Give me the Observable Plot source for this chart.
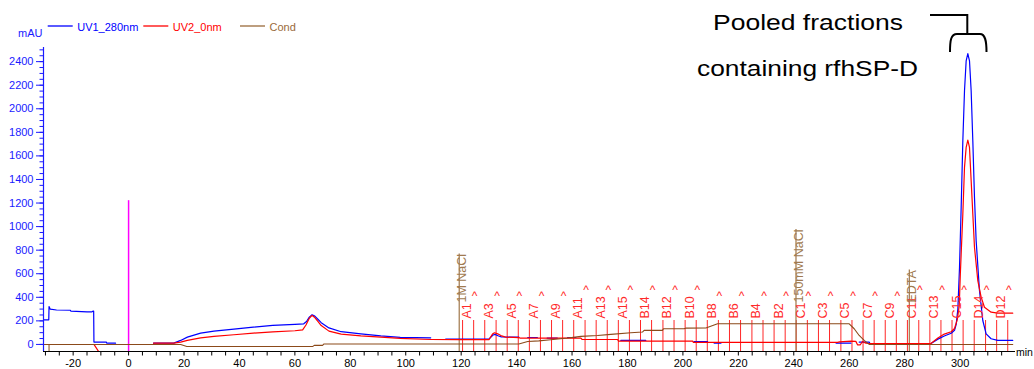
<!DOCTYPE html>
<html><head><meta charset="utf-8">
<script src="https://cdn.jsdelivr.net/npm/d3@7"></script>
<script src="https://cdn.jsdelivr.net/npm/@observablehq/plot@0.6"></script>
<style>
html,body{margin:0;padding:0;background:#fff;}
#chart{width:1034px;height:369px;overflow:hidden;}
svg{display:block;}
</style></head><body><div id="chart"></div>
<script>
// ---------------- data ----------------
const seriesNames = ["UV1_280nm", "UV2_0nm", "Cond"];
const seriesColors = ["#0000ff", "#ff0000", "#9a6a3a"];

// UV1_280nm  [time (min), mAU]; null = gap (hidden under other traces)
const uv1 = [
  [-30.7,209],[-28.8,209],[-28.7,322],[-28.3,300],[-26,292],[-21,290],[-20.8,282],[-15,277],[-13.2,276],[-12.9,282],[-12.6,282],[-12.5,20],[-8,20],[-7.9,11],[-4.7,11],
  null,
  [9,11],[16.3,11],[18.8,34],[21.2,62],[26,96],[30.8,113],[38,130],[45,147],[52,161],[60,170],[63.2,175],[64.2,195],[65.2,232],[66.2,252],[67.2,240],[68.3,214],[69.5,185],[72.3,140],[76.7,108],[83.8,90],[91,72],[98,60],[109,56],
  null,
  [114.4,45],[130,45],[131.5,80],[132.2,85],[133.5,72],[134.5,64],[140.8,62],
  null, [144,59],[147.5,59],
  null, [151,54],[154.7,54],
  null, [158.4,59],[161.4,59],
  null, [164.4,42],[171.6,42],
  null, [177.6,34],[186.6,34],
  null, [204,24],[208.9,24],
  null, [211.3,11],[213.7,11],
  null, [255.3,11],[260.6,11],
  null, [263.6,20],[267.2,20],[267.5,8],[289.5,8],[292,45],[294.3,72],[296.8,95],[298,120],[298.6,170],[299.2,300],[299.8,655],[300.4,1164],[301,1729],[301.6,2153],[302.2,2407],[302.8,2469],[303.4,2407],[304,2153],[304.6,1729],[305.2,1249],[305.8,881],[307,458],[308.2,203],[309.4,90],[311.2,48],[313.6,34],[319,34]
];

// UV2_0nm
const uv2 = [
  [-12.5,0],[-10.4,-75],
  null,
  [9,11],[16.3,11],[18.8,20],[21.2,34],[26,56],[30.8,68],[38,82],[45,96],[52,107],[60,116],[62.8,124],[64,165],[65.2,222],[66.2,246],[67.2,228],[68.3,195],[69.5,160],[72.3,113],[76.7,88],[83.8,73],[91,62],[98,51],[109,42],[119,40],[130,40],[131.3,88],[132,99],[133.2,90],[134.3,75],[136,62],[140.8,58],[141.2,54],[163.2,54],[163.6,42],[176.4,42],[176.8,28],[203.5,28],[203.8,17],[255.8,17],[256.5,22],[260.6,28],[262.4,26],[263,-3],[264,-3],[264.8,25],[266,11],[267,8],[289.5,8],[292,55],[294.3,88],[296.8,108],[298,135],[299,210],[299.7,330],[300.1,600],[301,1107],[301.6,1503],[302.2,1672],[302.8,1734],[303.4,1672],[304,1390],[304.6,1107],[305.2,825],[306.4,542],[307.6,401],[308.8,316],[311.2,274],[313.6,265],[319,265]
];

// Cond (drawn in the mAU frame)
const cond = [
  [-30.7,0],[18.8,0],[21,-17],[66.5,-17],[67,-8],[70,-8],[70.5,4],[140.8,4],[144,25],[148,30],[152.3,40],[158.4,54],[163.2,68],[169.2,76],[174,85],[181.2,99],[185.4,105],[186,119],[192.6,119],[193,133],[200.4,133],[201,138],[208.3,140],[212.5,175],[260,175],[261.8,133],[263.6,76],[265.4,34],[267.2,0],[319,0]
];

// fractions
const fracTimes = [120.5,124.5,128.5,132.6,136.6,140.6,144.6,148.6,152.6,156.6,160.6,164.7,168.7,172.7,176.7,180.7,184.7,188.7,192.8,196.8,200.8,204.8,208.8,212.8,216.8,220.8,224.9,228.9,232.9,236.9,240.9,244.9,248.9,252.9,257.0,261.0,265.0,269.0,273.0,277.0,281.0,285.1,289.1,293.1,297.1,301.1,305.1,309.2,313.2,317.2];
const fracNames = ["A1","A2","A3","A4","A5","A6","A7","A8","A9","A10","A11","A12","A13","A14","A15","B15","B14","B13","B12","B11","B10","B9","B8","B7","B6","B5","B4","B3","B2","B1","C1","C2","C3","C4","C5","C6","C7","C8","C9","C10","C11","C12","C13","C14","C15","D15","D14","D13","D12","D11"];

// events (method marks)
const eventTimes = [119.3, 240.8, 281.7];
const eventLabels = ["1M NaCl", "150mM NaCl", "EDTA"];
const injectTime = 0, injectHeight = 1220;
const startMarkTime = -28.7;

// axes
const xTicks = d3.range(-30, 320, 5);
const xLabelTicks = [-20, 0, 20, 40, 60, 80, 100, 120, 140, 160, 180, 200, 220, 240, 260, 280, 300];
const yTicks = [0, 200, 400, 600, 800, 1000, 1200, 1400, 1600, 1800, 2000, 2200, 2400];
const yMinorTicks = d3.range(0, 2501, 50);
const yUnit = "mAU", xUnit = "min";
const annotationLines = ["Pooled fractions", "containing rfhSP-D"];

// ---------------- chart ----------------
const FONT = "'Liberation Sans', Arial, Helvetica, sans-serif";
const W = 1034, H = 369, ML = 43, MR = 19, MT = 47, MB = 18;
const xDomain = [-30.7, 320], yDomain = [-60, 2520];
const yPix = d3.scaleLinear().domain(yDomain).range([H - MB, MT]);
const v = p => yPix.invert(p);

const ctx = document.createElement("canvas").getContext("2d");
ctx.font = "12.5px " + FONT;
const tw = s => ctx.measureText(s).width;

const fr = fracTimes.map((t, i) => ({t, name: fracNames[i], i}));
const labeled = fr.filter(d => d.i % 2 === 0);
const carets = fr.filter(d => d.i % 2 === 1).map(d => ({...d, high: (d.i >= 11 && d.i <= 21) || d.i >= 41}));
const events = eventTimes.map((t, i) => ({t, label: eventLabels[i]}));

const X = d => d ? d[0] : null, Y = d => d ? d[1] : null;
const blue = "#1a1aff";

const plot = Plot.plot({
  width: W, height: H,
  marginLeft: ML, marginRight: MR, marginTop: MT, marginBottom: MB,
  x: {domain: xDomain},
  y: {domain: yDomain},
  style: {fontFamily: FONT, fontSize: "11px", background: "white", overflow: "visible"},
  marks: [
    Plot.ruleX([injectTime], {y1: -60, y2: injectHeight, stroke: "#ff00ff", strokeWidth: 1.5}),
    Plot.ruleX([startMarkTime], {y1: -60, y2: 0, stroke: seriesColors[2], strokeWidth: 1.2}),
    Plot.ruleX(fr, {x: "t", y1: -60, y2: v(320), stroke: "#ff0000", strokeOpacity: 0.85, strokeWidth: 1}),
    Plot.ruleX(events, {x: "t", y1: -60, y2: d => v(302 - tw(d.label)), stroke: "#a88258", strokeWidth: 1.3}),
    Plot.line(uv1, {x: X, y: Y, stroke: seriesColors[0], strokeWidth: 1.2, clip: true}),
    Plot.line(uv2, {x: X, y: Y, stroke: seriesColors[1], strokeWidth: 1.2, clip: true}),
    Plot.line(cond, {x: X, y: Y, stroke: "#8b4a1a", strokeWidth: 1.1, clip: true}),
    Plot.text(labeled, {x: "t", y: () => v(318), text: "name", rotate: -90, textAnchor: "start", dx: 4.5, fill: "#ff2a2a", fontSize: 12.5}),
    Plot.text(carets, {x: "t", y: d => v(d.high ? 293 : 299.5), text: () => "^", lineAnchor: "bottom", dx: 1, fill: "#ff2a2a", fontSize: 12}),
    Plot.text(events, {x: "t", y: () => v(302), text: "label", rotate: -90, textAnchor: "start", dx: 3, fill: "#a07a50", fontSize: 12.5}),
    Plot.ruleY([-60], {stroke: "black", strokeWidth: 1}),
    Plot.ruleX([xDomain[0]], {stroke: blue, strokeWidth: 1.2}),
    Plot.axisX({ticks: xTicks, tickSize: 4.5, tickPadding: 3.5, label: null, color: "black", fontSize: 11,
      tickFormat: d => xLabelTicks.includes(d) ? `${d}` : ""}),
    Plot.axisY({ticks: yMinorTicks, tickSize: 3.5, label: null, color: blue, tickFormat: () => ""}),
    Plot.axisY({ticks: yTicks, tickSize: 7, tickPadding: 3, label: null, color: blue, fontSize: 11, tickFormat: d => `${d}`})
  ]
});

const svg = d3.select(plot);
const txt = (x, y, s, fill, size) => svg.append("text").attr("x", x).attr("y", y)
  .attr("text-anchor", "start").attr("fill", fill).attr("font-size", size).attr("font-family", FONT).text(s);
// legend
const legX = [47.7, 143.3, 240];
seriesNames.forEach((name, i) => {
  const c = seriesColors[i];
  svg.append("line").attr("x1", legX[i]).attr("x2", legX[i] + 25).attr("y1", 26).attr("y2", 26)
    .attr("stroke", c).attr("stroke-width", 1.3);
  txt(legX[i] + 29.5, 30.5, name, c, 11);
});
txt(18, 37, yUnit, blue, 11);
txt(1016, 356, xUnit, "black", 10.5);

// annotation
txt(713, 30, annotationLines[0], "black", 22).attr("textLength", 190).attr("lengthAdjust", "spacingAndGlyphs");
txt(697, 76, annotationLines[1], "black", 22).attr("textLength", 221).attr("lengthAdjust", "spacingAndGlyphs");
svg.append("path").attr("d", "M930,15 H967.3 V34").attr("fill", "none").attr("stroke", "black").attr("stroke-width", 2);
svg.append("path").attr("d", "M950,52 C950,40 951,34 957,34 H980 C985,34 986.5,40 986.5,52")
  .attr("fill", "none").attr("stroke", "black").attr("stroke-width", 2);

document.getElementById("chart").appendChild(plot);
</script>
</body></html>
